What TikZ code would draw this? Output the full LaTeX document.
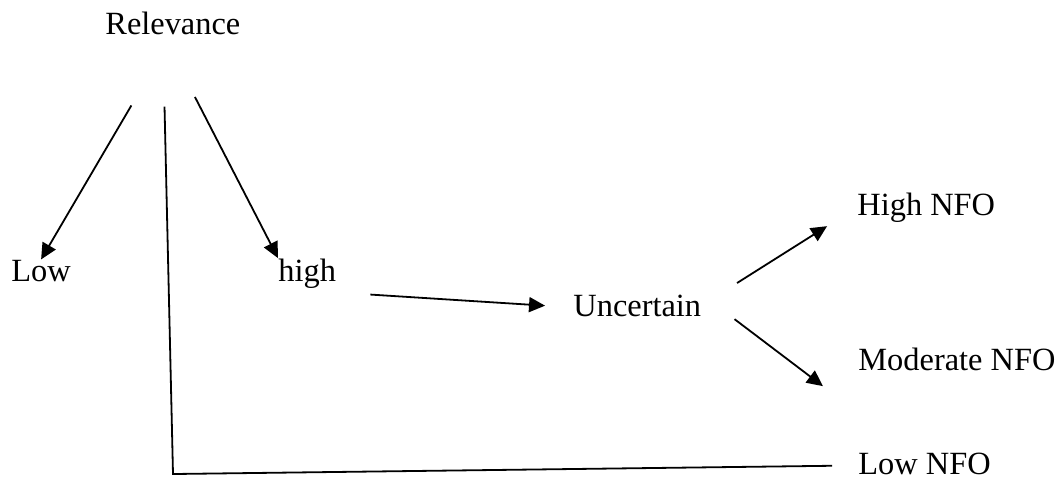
\documentclass[tikz,border=0pt]{standalone}
\usepackage{fontspec}
\setmainfont{Liberation Serif}
\usepackage{tikz}
\usetikzlibrary{positioning}
\usetikzlibrary{calc,arrows.meta}
\tikzset{lbl/.style={anchor=base west, inner sep=0pt, font=\fontsize{16.2pt}{20pt}\selectfont},
  arr/.style={line width=0.9pt, -{Triangle[length=8pt,width=7.5pt]}},
  ln/.style={line width=0.9pt}}

\begin{document}
\begin{tikzpicture}[x=0.5pt, y=-0.5pt]
      \useasboundingbox (0,0) rectangle (1058,479);
      \node(rel) [lbl] at (105,34) {Relevance};
      \node(low) [lbl] at (11,281) {Low};
      \node(high) [lbl] at (278,281) {high};
      \node(unc) [lbl] at (573,316) {Uncertain};
      \node(hnfo) [lbl] at (857,215) {High NFO};
      \node(mnfo) [lbl] at (858,370) {Moderate NFO};
      \node(lnfo) [lbl] at (858,474) {Low NFO};
      \coordinate(corner) at (173,474);

      \draw[arr, shorten <=41pt] (rel.south) -- (low.north);
      \draw[arr, shorten <=35pt] ([xshift=-5pt]rel.south) -- (high.north west);
      \draw[ln, shorten <=36pt, shorten >=13pt] ([xshift=-5pt]rel.south) -- (corner) -- ([yshift=-1pt]lnfo.west);
      \draw[arr, shorten <=17pt, shorten >=14pt] ([yshift=-2pt]high.south east) -- ([yshift=-1pt]unc.west);
      \draw[arr, shorten <=21pt, shorten >=17.7pt] (unc.east) -- (hnfo.west);
      \draw[arr, shorten <=20.7pt, shorten >=22pt] (unc.north east) -- ([yshift=-21pt]mnfo.south west);
    \end{tikzpicture}
\end{document}
